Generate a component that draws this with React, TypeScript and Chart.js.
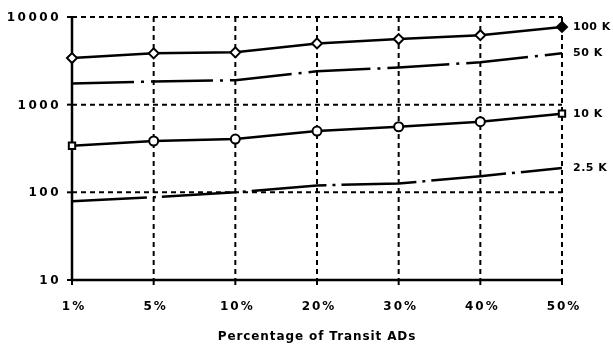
import React, { useEffect, useRef } from "react";
import { Chart, registerables } from "chart.js";

Chart.register(...registerables);

const categories = ["1%", "5%", "10%", "20%", "30%", "40%", "50%"];
const series100K = [3400, 3850, 3950, 5000, 5600, 6200, 7700];
const series50K = [1740, 1840, 1900, 2400, 2650, 3050, 3850];
const series10K = [340, 385, 405, 500, 560, 640, 790];
const series2_5K = [79, 88, 100, 120, 126, 153, 189];
const seriesNames = ["100 K", "50 K", "10 K", "2.5 K"];
const yTicks = [10, 100, 1000, 10000];
const xTitle = "Percentage of Transit ADs";

const FAMILY = "'DejaVu Sans', sans-serif";

const customPlugin = {
  id: "customDraw",
  beforeDatasetsDraw(chart: any) {
    const { ctx, chartArea: a, scales } = chart;
    const x = scales.x;
    const y = scales.y;
    const line = (x1: number, y1: number, x2: number, y2: number) => {
      ctx.beginPath();
      ctx.moveTo(x1, y1);
      ctx.lineTo(x2, y2);
      ctx.stroke();
    };
    ctx.save();
    ctx.strokeStyle = "#000";
    ctx.lineWidth = 2;
    ctx.setLineDash([5, 4]);
    for (let i = 1; i < categories.length; i++) {
      const px = x.getPixelForValue(i);
      line(px, a.top, px, a.bottom);
    }
    for (const v of yTicks.slice(1)) {
      const py = y.getPixelForValue(v);
      line(a.left, py, a.right, py);
    }
    ctx.setLineDash([]);
    ctx.lineWidth = 2.5;
    line(a.left, a.top - 1, a.left, a.bottom);
    line(a.left, a.bottom, a.right, a.bottom);
    ctx.lineWidth = 2;
    for (const v of yTicks) {
      const py = y.getPixelForValue(v);
      line(a.left - 5, py, a.left, py);
    }
    for (let i = 0; i < categories.length; i++) {
      const px = x.getPixelForValue(i);
      line(px, a.bottom, px, a.bottom + 5);
    }
    ctx.restore();
  },
  afterDraw(chart: any) {
    const { ctx, chartArea: a, scales } = chart;
    const x = scales.x;
    const y = scales.y;
    ctx.save();
    ctx.fillStyle = "#000";
    ctx.textBaseline = "middle";
    ctx.font = `bold 12px ${FAMILY}`;
    (ctx as any).letterSpacing = "2.5px";
    ctx.textAlign = "right";
    for (const v of yTicks) {
      ctx.fillText(String(v), a.left - 11, y.getPixelForValue(v) + 1);
    }
    ctx.textAlign = "center";
    (ctx as any).letterSpacing = "2px";
    categories.forEach((c, i) => {
      ctx.fillText(c, x.getPixelForValue(i) + 2, a.bottom + 27);
    });
    ctx.font = `bold 12px ${FAMILY}`;
    (ctx as any).letterSpacing = "0.9px";
    ctx.fillText(xTitle, (a.left + a.right) / 2, a.bottom + 57);
    ctx.textAlign = "left";
    ctx.font = `bold 11px ${FAMILY}`;
    (ctx as any).letterSpacing = "0.5px";
    const ends = [series100K, series50K, series10K, series2_5K];
    ends.forEach((s, i) => {
      ctx.fillText(seriesNames[i], a.right + 11, y.getPixelForValue(s[s.length - 1]));
    });
    ctx.restore();
  },
};

export default function App() {
  const ref = useRef<HTMLCanvasElement>(null);
  useEffect(() => {
    if (!ref.current) return;
    const last = categories.length - 1;
    const chart = new Chart(ref.current, {
      type: "line",
      data: {
        labels: categories,
        datasets: [
          {
            label: seriesNames[0],
            data: series100K,
            borderColor: "#000",
            borderWidth: 2.5,
            pointStyle: "rectRot",
            pointRadius: 5,
            pointBorderWidth: 2,
            pointBorderColor: "#000",
            pointBackgroundColor: series100K.map((_, i) => (i === last ? "#000" : "#fff")),
            tension: 0,
          },
          {
            label: seriesNames[1],
            data: series50K,
            borderColor: "#000",
            borderWidth: 2.5,
            borderDash: [62, 7, 3, 7],
            pointRadius: 0,
            tension: 0,
          },
          {
            label: seriesNames[2],
            data: series10K,
            borderColor: "#000",
            borderWidth: 2.5,
            pointStyle: series10K.map((_, i) => (i === 0 || i === last ? "rect" : "circle")),
            pointRadius: 4.5,
            pointBorderWidth: 2,
            pointBorderColor: "#000",
            pointBackgroundColor: "#fff",
            tension: 0,
          },
          {
            label: seriesNames[3],
            data: series2_5K,
            borderColor: "#000",
            borderWidth: 2.5,
            borderDash: [75, 6, 3, 6],
            pointRadius: 0,
            tension: 0,
          },
        ],
      },
      options: {
        animation: false,
        responsive: false,
        layout: { padding: { left: 72, right: 51, top: 17, bottom: 65 } },
        plugins: { legend: { display: false }, tooltip: { enabled: false } },
        scales: {
          x: { type: "category", display: false, offset: false },
          y: { type: "logarithmic", display: false, min: 10, max: 10000 },
        },
      },
      plugins: [customPlugin],
    });
    return () => chart.destroy();
  }, []);
  return (
    <div style={{ position: "fixed", left: 0, top: 0, width: 613, height: 345, background: "#fff" }}>
      <canvas ref={ref} width={613} height={345} />
    </div>
  );
}
